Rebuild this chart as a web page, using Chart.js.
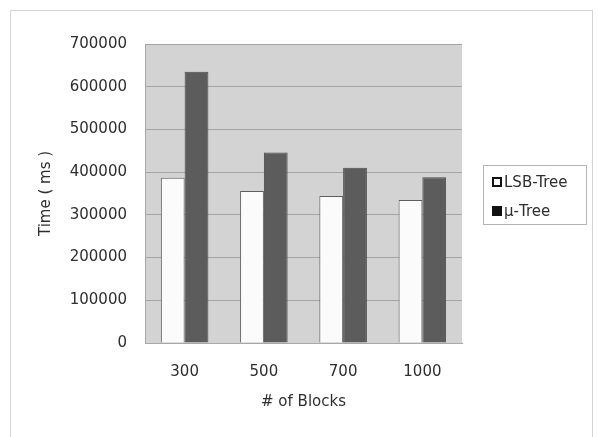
<!DOCTYPE html>
<html>
<head>
<meta charset="utf-8">
<script src="https://cdn.jsdelivr.net/npm/chart.js@4.4.0/dist/chart.umd.min.js"></script>
<style>
  html, body { margin: 0; padding: 0; background: #fff; }
  #wrap { width: 598px; height: 437px; }
</style>
</head>
<body>
<div id="wrap"><canvas id="blocksChart" width="598" height="437"></canvas></div>
<script>
// values
const blockCounts = ['300', '500', '700', '1000'];
const lsbTreeTimes = [387000, 356000, 344000, 335000];
const muTreeTimes = [635000, 446000, 410000, 388000];
const yMax = 700000;
const yStep = 100000;

const FONT = 'DejaVu Sans';
const TEXT = '#2e2e2e';

// outer frame + grey plot background
const backdrop = {
  id: 'backdrop',
  beforeDraw(chart) {
    const { ctx, chartArea: a } = chart;
    ctx.save();
    ctx.fillStyle = '#fff';
    ctx.fillRect(0, 0, chart.width, chart.height);
    ctx.strokeStyle = '#d4d4d4';
    ctx.lineWidth = 1;
    ctx.strokeRect(10.5, 10.5, 582, 440);
    ctx.fillStyle = '#d3d3d3';
    ctx.fillRect(a.left, a.top, a.right - a.left, a.bottom - a.top);
    ctx.restore();
  }
};

// boxed legend to the right of the plot
const boxLegend = {
  id: 'boxLegend',
  afterDraw(chart) {
    const { ctx } = chart;
    const x0 = 483, y0 = 165, w = 103, h = 59;
    ctx.save();
    ctx.strokeStyle = '#b4b4b4';
    ctx.lineWidth = 1;
    ctx.strokeRect(x0 + 0.5, y0 + 0.5, w, h);
    ctx.font = '15px "' + FONT + '"';
    ctx.textBaseline = 'middle';
    const swatch = ['#ffffff', '#111111'];
    chart.data.datasets.forEach((ds, i) => {
      const cy = y0 + 17 + i * 29;
      ctx.fillStyle = swatch[i];
      ctx.fillRect(x0 + 9, cy - 5, 10, 10);
      ctx.strokeStyle = '#111';
      ctx.lineWidth = 2;
      ctx.strokeRect(x0 + 10, cy - 4, 8, 8);
      ctx.fillStyle = TEXT;
      ctx.fillText(ds.label, x0 + 21, cy + 1);
    });
    ctx.restore();
  }
};

new Chart(document.getElementById('blocksChart'), {
  type: 'bar',
  data: {
    labels: blockCounts,
    datasets: [
      {
        label: 'LSB-Tree',
        data: lsbTreeTimes,
        backgroundColor: '#fbfbfb',
        borderColor: '#5e5e5e',
        borderWidth: 1
      },
      {
        label: 'μ-Tree',
        data: muTreeTimes,
        backgroundColor: '#5c5c5c',
        borderColor: '#4a4a4a',
        borderWidth: 1
      }
    ]
  },
  options: {
    responsive: false,
    devicePixelRatio: 1,
    animation: false,
    layout: { padding: { left: 0, top: 44, right: 136, bottom: 0 } },
    datasets: { bar: { categoryPercentage: 0.6, barPercentage: 1.0 } },
    plugins: {
      legend: { display: false },
      tooltip: { enabled: false }
    },
    scales: {
      x: {
        grid: { display: false, drawTicks: false },
        border: { color: '#a8a8a8' },
        ticks: { color: TEXT, font: { family: FONT, size: 15 }, padding: 20, maxRotation: 0 },
        title: { display: true, text: '# of Blocks', color: TEXT, font: { family: FONT, size: 15 }, padding: { top: 0, bottom: 26 } },
        afterFit(scale) { scale.height = 94; }
      },
      y: {
        min: 0,
        max: yMax,
        grid: { color: '#a4a4a4', drawTicks: false },
        border: { color: '#a8a8a8' },
        ticks: { stepSize: yStep, color: TEXT, font: { family: FONT, size: 15 }, padding: 18, callback: v => String(v) },
        title: { display: true, text: 'Time ( ms )', color: TEXT, font: { family: FONT, size: 15 }, padding: { top: 37, bottom: 0 } },
        afterFit(scale) { scale.width = 145; }
      }
    }
  },
  plugins: [backdrop, boxLegend]
});
</script>
</body>
</html>
